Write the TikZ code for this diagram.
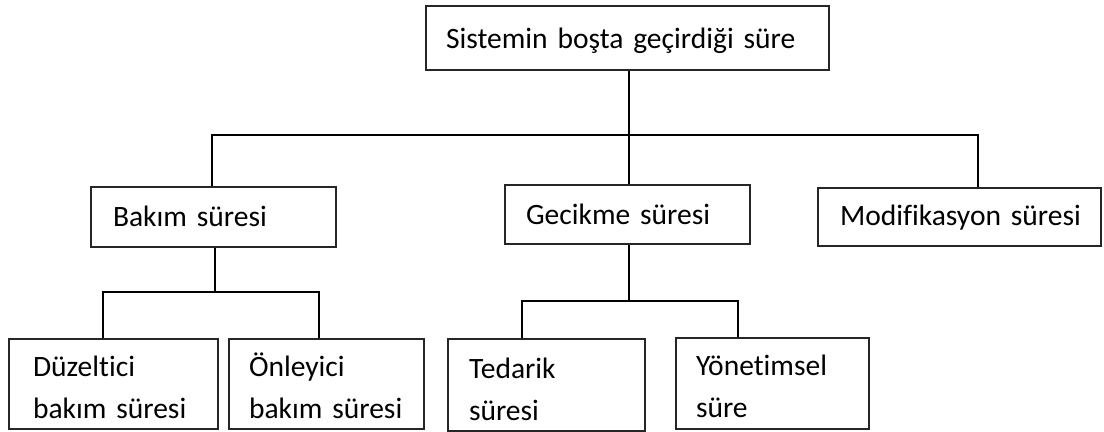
\documentclass[tikz,border=0pt]{standalone}
\usepackage{fontspec}
\setmainfont{Carlito}[Ligatures=NoCommon]
\usetikzlibrary{positioning}

\tikzset{
  box/.style={draw=black!85, line width=0.05cm, inner ysep=0pt, align=left,
    anchor=north west, font=\fontsize{21}{29.9}\selectfont},
  link/.style={line width=0.07cm},
}

\begin{document}
\begin{tikzpicture}[x=0.025cm, y=-0.025cm]
    \useasboundingbox (0,0) rectangle (1104,432);

    % Top level
    \node[box, inner xsep=0.5cm, text width=9.075cm, text height=1.05cm, text depth=0.55cm]
      (top) at (425,5) {Sistemin boşta geçirdiği süre};

    % Second level
    \node[box, inner xsep=0.55cm, text width=5.025cm, text height=0.975cm, text depth=0.525cm]
      (bakim) at (90,186) {Bakım süresi};
    \node[box, inner xsep=0.525cm, text width=5.075cm, text height=0.975cm, text depth=0.5cm]
      (gecikme) at (504,184) {Gecikme süresi};
    \node[box, inner xsep=0.55cm, text width=5.975cm, text height=0.925cm, text depth=0.525cm]
      (modif) at (817,187) {Modifikasyon~süresi};

    % Third level
    \node[box, inner xsep=0.6cm, text width=4.025cm, text height=0.925cm, text depth=1.325cm]
      (duzeltici) at (8,338) {Düzeltici\\bakım~süresi};
    \node[box, inner xsep=0.5cm, text width=3.875cm, text height=0.925cm, text depth=1.325cm]
      (onleyici) at (228,338) {Önleyici\\bakım~süresi};
    \node[box, inner xsep=0.525cm, text width=3.875cm, text height=0.975cm, text depth=1.325cm]
      (tedarik) at (447,338) {Tedarik\\süresi};
    \node[box, inner xsep=0.5cm, text width=3.825cm, text height=0.925cm, text depth=1.35cm]
      (yonetimsel) at (675,337) {Yönetimsel\\süre};

    % Top to second level
    \coordinate (trunk) at (629,135);
    \coordinate (ltap) at (212,135);
    \coordinate (rtap) at (978,135);
    \draw[link] (top.south -| trunk) -- (gecikme.north -| trunk);
    \draw[link] (bakim.north -| ltap) -- (ltap) -- (rtap) -- (modif.north -| rtap);

    % Bakim branch
    \coordinate (bbus) at (215,292);
    \coordinate (dtap) at (103,292);
    \coordinate (otap) at (319,292);
    \draw[link] (bakim.south -| bbus) -- (bbus);
    \draw[link] (duzeltici.north -| dtap) -- (dtap) -- (otap) -- (onleyici.north -| otap);

    % Gecikme branch
    \coordinate (gbus) at (629,301);
    \coordinate (ttap) at (522,301);
    \coordinate (ytap) at (738,301);
    \draw[link] (gecikme.south -| gbus) -- (gbus);
    \draw[link] (tedarik.north -| ttap) -- (ttap) -- (ytap) -- (yonetimsel.north -| ytap);
\end{tikzpicture}
\end{document}
